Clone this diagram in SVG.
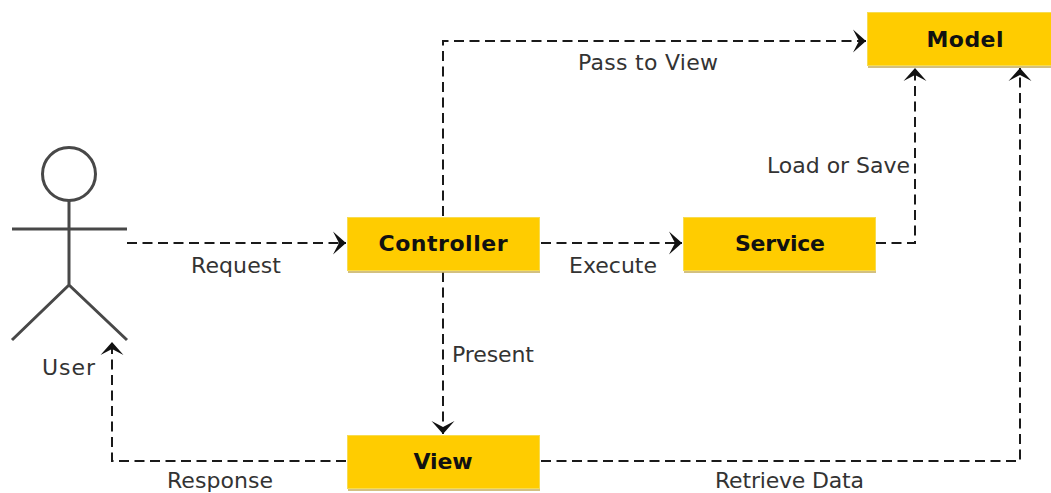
<svg xmlns="http://www.w3.org/2000/svg" width="1051" height="493" viewBox="0 0 1051 493">
<style>
text{font-family:"DejaVu Sans","Liberation Sans",sans-serif}
.box{fill:#ffcc00;stroke:#f7dc50;stroke-width:1}
.sh{fill:#c8b060;opacity:.8}
.nl{font-size:22px;font-weight:bold;fill:#111;text-anchor:middle}
.el{font-size:22px;fill:#333}
.con{fill:none;stroke:#1a1a1a;stroke-width:2;stroke-dasharray:10 5.5}
.act{fill:none;stroke:#484848;stroke-width:3}
</style>
<defs>
<marker id="arr" markerUnits="userSpaceOnUse" markerWidth="18" markerHeight="26" refX="16" refY="12" orient="auto">
<path d="M3 0.500 L16 12 L3 23.500 L9 12 Z" fill="#111"/>
</marker>
</defs>
<g id="connectors">
<path class="con" d="M127 243H346" marker-end="url(#arr)"/>
<path class="con" d="M443 216V41H866" marker-end="url(#arr)"/>
<path class="con" d="M541 243H682" marker-end="url(#arr)"/>
<path class="con" d="M876 243H915V68" marker-end="url(#arr)"/>
<path class="con" d="M443 272V434" marker-end="url(#arr)"/>
<path class="con" d="M346 461H112V342" marker-end="url(#arr)"/>
<path class="con" d="M541 461H1020V68" marker-end="url(#arr)"/>
</g>
<g id="user">
<circle class="act" cx="69" cy="174" r="26.500"/>
<path class="act" d="M69 200V285M12 229H127M12 340L69 285L127 340"/>
<text class="el" x="42" y="375" textLength="53" lengthAdjust="spacing">User</text>
</g>
<g id="controller">
<rect class="sh" x="348" y="270" width="192" height="3"/>
<rect class="box" x="347.500" y="217.500" width="192" height="53"/>
<text class="nl" x="443" y="251" textLength="129" lengthAdjust="spacing">Controller</text>
</g>
<g id="service">
<rect class="sh" x="684" y="270" width="192" height="3"/>
<rect class="box" x="683.500" y="217.500" width="192" height="53"/>
<text class="nl" x="780" y="251" textLength="90" lengthAdjust="spacing">Service</text>
</g>
<g id="model">
<rect class="sh" x="868" y="65" width="183" height="3"/>
<rect class="box" x="867.500" y="12.500" width="184" height="53"/>
<text class="nl" x="965" y="47" textLength="77" lengthAdjust="spacing">Model</text>
</g>
<g id="view">
<rect class="sh" x="348" y="488" width="192" height="3"/>
<rect class="box" x="347.500" y="435.500" width="192" height="53"/>
<text class="nl" x="443" y="469" textLength="59" lengthAdjust="spacing">View</text>
</g>
<g id="labels">
<text class="el" x="191" y="273" textLength="90" lengthAdjust="spacing">Request</text>
<text class="el" x="578" y="70" textLength="140" lengthAdjust="spacing">Pass to View</text>
<text class="el" x="767" y="173" textLength="143" lengthAdjust="spacing">Load or Save</text>
<text class="el" x="569" y="273" textLength="88" lengthAdjust="spacing">Execute</text>
<text class="el" x="452" y="362" textLength="82" lengthAdjust="spacing">Present</text>
<text class="el" x="167" y="488" textLength="106" lengthAdjust="spacing">Response</text>
<text class="el" x="715" y="488" textLength="149" lengthAdjust="spacing">Retrieve Data</text>
</g>
</svg>
